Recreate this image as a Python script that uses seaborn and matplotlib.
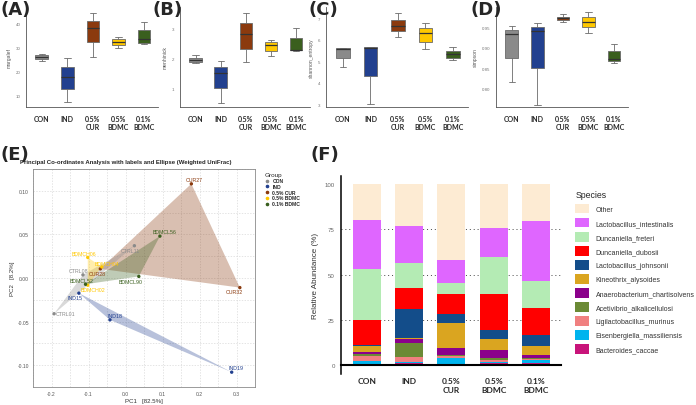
import numpy as np
import pandas as pd
import matplotlib
matplotlib.use("Agg")
import matplotlib.pyplot as plt
import seaborn as sns
from matplotlib.patches import Patch
from matplotlib.lines import Line2D

sns.set_theme(style="white")
plt.rcParams['font.family'] = ['Liberation Sans', 'DejaVu Sans']

# ---------------- data ----------------
groups = ["CON", "IND", "0.5% CUR", "0.5% BDMC", "0.1% BDMC"]
group_ticks = ["CON", "IND", "0.5%\nCUR", "0.5%\nBDMC", "0.1%\nBDMC"]
group_colors = ["#8a8a8a", "#22408f", "#8b3a0e", "#ffc800", "#3a5f1e"]

# alpha-diversity sample values per group
margalef = [[24.0, 25.0, 25.8, 26.6, 27.0],
            [7.0, 12.4, 17.6, 21.5, 25.3],
            [25.8, 32.1, 37.8, 41.0, 44.4],
            [29.5, 30.8, 32.2, 33.3, 34.3],
            [31.1, 31.8, 33.3, 37.0, 40.6]]
menhinick = [[1.85, 1.86, 1.93, 1.99, 2.10],
             [0.52, 1.00, 1.50, 1.71, 1.91],
             [1.86, 2.32, 2.82, 3.17, 3.52],
             [2.08, 2.24, 2.44, 2.54, 2.60],
             [2.24, 2.28, 2.29, 2.67, 3.02]]
shannon_entropy = [[4.75, 5.14, 5.57, 5.60, 5.60],
                   [3.01, 4.30, 5.62, 5.65, 5.65],
                   [6.14, 6.40, 6.63, 6.92, 7.23],
                   [5.56, 5.91, 6.30, 6.53, 6.77],
                   [5.06, 5.17, 5.34, 5.48, 5.65]]
simpson = [[0.816, 0.875, 0.935, 0.945, 0.954],
           [0.762, 0.852, 0.942, 0.952, 0.962],
           [0.964, 0.968, 0.973, 0.976, 0.982],
           [0.937, 0.950, 0.964, 0.975, 0.987],
           [0.863, 0.868, 0.873, 0.892, 0.910]]

# PCoA (weighted UniFrac)
samples = ["CTRL01", "CTRL08", "CTRL11", "IND15", "IND18", "IND19",
           "CUR27", "CUR28", "CUR32", "BDMCH02", "BDMCH04", "BDMCH06",
           "BDMCL52", "BDMCL56", "BDMCL90"]
sample_group = ["CON"] * 3 + ["IND"] * 3 + ["0.5% CUR"] * 3 + ["0.5% BDMC"] * 3 + ["0.1% BDMC"] * 3
pc1 = [-0.193, -0.115, 0.024, -0.126, -0.042, 0.287,
       0.178, -0.068, 0.309, -0.102, -0.064, -0.102,
       -0.108, 0.093, 0.036]
pc2 = [-0.041, 0.0036, 0.037, -0.0174, -0.048, -0.108,
       0.108, 0.0105, -0.011, -0.0083, 0.0127, 0.0236,
       -0.0072, 0.048, 0.0018]

# relative abundance (%), stacking order bottom -> top
species = ["Bacteroides_caccae", "Eisenbergiella_massiliensis", "Ligilactobacillus_murinus",
           "Acetivibrio_alkalicellulosi", "Anaerobacterium_chartisolvens", "Kineothrix_alysoides",
           "Lactobacillus_johnsonii", "Duncaniella_dubosii", "Duncaniella_freteri",
           "Lactobacillus_intestinalis", "Other"]
species_colors = ["#c8147a", "#00b4ee", "#f08080", "#6b8a35", "#8b008b", "#daa520",
                  "#134d8a", "#ff0000", "#b4ebb4", "#df66ff", "#fdebd3"]
abund_CON = [0.9, 1.5, 2.8, 0.9, 1.3, 3.5, 0.5, 13.6, 28.4, 26.9, 19.7]
abund_IND = [1.5, 0.3, 2.8, 7.9, 1.9, 0.9, 16.0, 11.6, 13.5, 20.2, 23.4]
abund_CUR = [0.6, 3.3, 1.1, 0.7, 4.1, 13.8, 4.9, 11.1, 5.7, 12.7, 42.0]
abund_BDMC05 = [1.3, 0.7, 0.8, 1.3, 4.2, 6.4, 4.6, 19.9, 20.7, 15.6, 24.5]
abund_BDMC01 = [1.5, 1.3, 0.9, 0.5, 1.5, 5.2, 6.0, 14.6, 14.9, 33.2, 20.4]

# ---------------- figure ----------------
W, H = 696, 406
fig = plt.figure(figsize=(W / 100, H / 100), dpi=100)


def axes_px(x0, y0, x1, y1):
    return fig.add_axes([x0 / W, 1 - y1 / H, (x1 - x0) / W, (y1 - y0) / H])


def panel_label(txt, x, y):
    fig.text(x / W, 1 - y / H, txt, fontsize=13, fontweight="bold",
             family="DejaVu Sans", va="top", ha="left")


box_specs = [
    (margalef, "margalef", (26, 158), (5, 46.7), [10, 20, 30, 40], ["10", "20", "30", "40"]),
    (menhinick, "menhinick", (180, 310), (0.37, 3.71), [1, 2, 3], ["1", "2", "3"]),
    (shannon_entropy, "shannon_entropy", (326, 468), (2.87, 7.53), [3, 4, 5, 6, 7], ["3", "4", "5", "6", "7"]),
    (simpson, "simpson", (496, 628), (0.756, 1.0), [0.80, 0.85, 0.90, 0.95], ["0.80", "0.85", "0.90", "0.95"]),
]
for vals, name, (xa, xb), ylim, yt, ytl in box_specs:
    ax = axes_px(xa, 8, xb, 108)
    df = pd.DataFrame({"group": np.repeat(groups, [len(v) for v in vals]),
                       "value": np.concatenate(vals)})
    sns.boxplot(data=df, x="group", y="value", hue="group", order=groups, hue_order=groups,
                palette=group_colors, width=0.5, linewidth=0.6, linecolor="#6a6a6a",
                saturation=1, fliersize=0, legend=False, ax=ax,
                medianprops=dict(color="#333333", linewidth=0.9))
    ax.set_xlim(-0.62, 4.55)
    ax.set_ylim(*ylim)
    ax.set_yticks(yt)
    ax.set_yticklabels(ytl, fontsize=3.2, color="#777777")
    ax.set_xticks(range(5))
    ax.set_xticklabels(group_ticks, fontsize=5, fontweight="bold", family="Lato",
                       linespacing=1.1)
    ax.set_xlabel("")
    ax.set_ylabel(name, fontsize=3.6, color="#555555", labelpad=3)
    for s in ["top", "right"]:
        ax.spines[s].set_visible(False)
    for s in ["left", "bottom"]:
        ax.spines[s].set_color("#555555")
        ax.spines[s].set_linewidth(0.6)
    ax.tick_params(axis="both", length=2, width=0.5, color="#777777", pad=2)
    ax.tick_params(axis="x", pad=4)
    ax.set_facecolor("white")

panel_label("(A)", 0, 1)
panel_label("(B)", 152, 1)
panel_label("(C)", 308, 1)
panel_label("(D)", 471, 1)

# ---------------- (E) PCoA ----------------
ax = axes_px(33, 170, 255, 388)
pcdf = pd.DataFrame({"sample": samples, "group": sample_group, "PC1": pc1, "PC2": pc2})
cmap = dict(zip(groups, group_colors))
fill_order = ["0.5% CUR", "CON", "IND", "0.5% BDMC", "0.1% BDMC"]
for g in fill_order:
    sub = pcdf[pcdf.group == g]
    ax.fill(sub.PC1, sub.PC2, color=cmap[g], alpha=0.32, lw=0, zorder=1)
sns.scatterplot(data=pcdf, x="PC1", y="PC2", hue="group", hue_order=groups,
                palette=group_colors, s=6, linewidth=0, legend=False, ax=ax, zorder=3)
label_offsets = {"CTRL01": (8.4, 0), "CTRL08": (-3.4, 2.9), "CTRL11": (-3.1, -3.1),
                 "IND15": (-2.6, -3.4), "IND18": (3.6, 3.1), "IND19": (3.4, 3.6),
                 "CUR27": (2.4, 3.4), "CUR28": (-1.9, -3.4), "CUR32": (-4.3, -2.9),
                 "BDMCH02": (3.6, -2.9), "BDMCH04": (3.6, 2.4), "BDMCH06": (-2.9, 3.1),
                 "BDMCL52": (-2.9, 2.9), "BDMCL56": (3.6, 3.6), "BDMCL90": (-6.0, -4.0)}
for s, g, x, y in zip(samples, sample_group, pc1, pc2):
    dx, dy = label_offsets[s]
    ax.annotate(s, (x, y), xytext=(dx, dy), textcoords="offset points",
                fontsize=3.8, color=cmap[g], ha="center", va="center", zorder=4)
ax.set_xlim(-0.22, 0.336)
ax.set_ylim(-0.117, 0.119)
ax.set_xticks([-0.2, -0.1, 0.0, 0.1, 0.2, 0.3])
ax.set_xticklabels(["-0.2", "-0.1", "0.0", "0.1", "0.2", "0.3"])
ax.set_yticks([-0.10, -0.05, 0.0, 0.05, 0.10])
ax.set_yticklabels(["-0.10", "-0.05", "0.00", "0.05", "0.10"])
ax.set_xticks(np.arange(-0.25, 0.36, 0.1), minor=True)
ax.set_yticks(np.arange(-0.125, 0.126, 0.05), minor=True)
ax.grid(True, which="both", color="#d9d9d9", lw=0.5, ls=(0, (2, 2)))
ax.set_axisbelow(True)
ax.tick_params(axis="both", which="major", labelsize=3.6, labelcolor="#555555",
               length=1.5, width=0.4, color="#777777", pad=1.5)
ax.tick_params(axis="both", which="minor", length=0)
for sp in ax.spines.values():
    sp.set_color("#8a8a8a")
    sp.set_linewidth(0.6)
ax.set_xlabel("PC1   [82.5%]", fontsize=4.4, color="#333333", labelpad=1.5)
ax.set_ylabel("PC2   [8.2%]", fontsize=4.4, color="#333333", labelpad=2)
ax.set_title("Principal Co-ordinates Analysis with labels and Ellipse (Weighted UniFrac)",
             fontsize=4.3, fontweight="bold", loc="left", x=-0.06, pad=4)
handles = [Line2D([], [], marker="o", ls="", color=c, markersize=1.6) for c in group_colors]
leg = fig.legend(handles, groups, title="Group", loc="upper left",
                 bbox_to_anchor=(262 / W, 1 - 171 / H), frameon=False,
                 prop=dict(size=3.6, weight="bold"), title_fontproperties=dict(size=4.6),
                 labelspacing=0.15, handlelength=1.0, handletextpad=0.6, borderpad=0)
leg._legend_box.align = "left"

panel_label("(E)", 0, 146)
panel_label("(F)", 311, 146)

# ---------------- (F) stacked bars ----------------
ax = axes_px(341, 177, 561, 375)
abund = pd.DataFrame([abund_CON, abund_IND, abund_CUR, abund_BDMC05, abund_BDMC01],
                     index=groups, columns=species)
cum = abund.cumsum(axis=1)
for y in [25, 50, 75]:
    ax.axhline(y, color="#444444", lw=0.7, ls=(0, (1, 3)), zorder=0)
for sp_name, col in zip(reversed(species), reversed(species_colors)):
    sns.barplot(x=groups, y=cum[sp_name].values, order=groups, color=col, saturation=1,
                width=0.66, errorbar=None, linewidth=0, ax=ax, zorder=2)
for s in ["top", "right"]:
    ax.spines[s].set_visible(False)
ax.spines["bottom"].set_position(("data", 0))
ax.spines["bottom"].set_linewidth(1.5)
ax.spines["bottom"].set_color("black")
ax.spines["left"].set_linewidth(1.1)
ax.spines["left"].set_color("black")
ax.set_xlim(-0.61, 4.59)
ax.set_ylim(-4.7, 104.4)
ax.set_yticks([0, 25, 50, 75, 100])
ax.set_yticklabels(["0", "25", "50", "75", "100"], fontsize=4.4, color="#666666")
ax.set_xticks(range(5))
ax.set_xticklabels(group_ticks, fontsize=6, fontweight="bold", family="Lato", linespacing=1.35)
ax.set_ylabel("Relative Abundance (%)", fontsize=5.8, color="#333333", labelpad=4)
ax.set_xlabel("")
ax.tick_params(axis="y", length=2.5, width=0.5, color="#888888", pad=2)
ax.tick_params(axis="x", length=0, pad=8)
ax.set_facecolor("none")

sp_handles = [Patch(facecolor=c, edgecolor="none") for c in reversed(species_colors)]
leg2 = fig.legend(sp_handles, list(reversed(species)), title="Species", loc="upper left",
                  bbox_to_anchor=(572 / W, 1 - 188 / H), frameon=False,
                  prop=dict(size=5.0), title_fontproperties=dict(size=6.3),
                  labelspacing=0.7, handlelength=2.0, handleheight=1.65,
                  handletextpad=0.9, borderpad=0)
leg2._legend_box.align = "left"
for t in leg2.get_texts():
    t.set_color("#333333")

fig.savefig("out.png", dpi=100)
